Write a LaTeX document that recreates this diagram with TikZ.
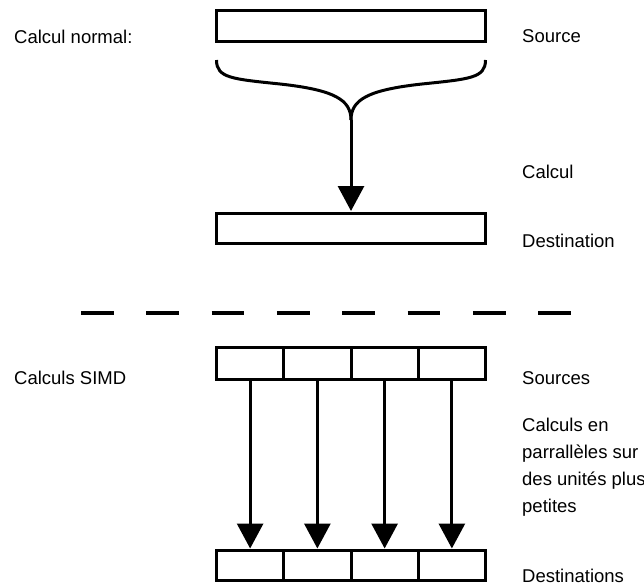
\documentclass[tikz,border=0pt]{standalone}
\usepackage{fontspec}
\setmainfont{Liberation Sans}
\usetikzlibrary{arrows.meta}
\begin{document}
\begin{tikzpicture}[x=1pt,y=-1pt,
  lbl/.style={anchor=base west,inner sep=0pt,font=\fontsize{18.5pt}{26.7pt}\selectfont,align=left},
  bigbox/.style={draw,line width=3pt,minimum width=269pt,minimum height=31pt,inner sep=0pt,outer sep=0pt},
  cell/.style={draw,line width=3pt,minimum width=67.25pt,minimum height=32pt,inner sep=0pt,outer sep=0pt},
  conn/.style={line width=3pt,-{Triangle[width=26pt,length=25pt]}},
  bracestyle/.style={line width=3pt}]
\useasboundingbox (0,0) rectangle (644,586);
% top part
\node[bigbox] (src) at (351,26) {};
\node[bigbox,minimum height=30pt] (dst) at (351,228.5) {};
\coordinate (bl) at (216.5,60);
\coordinate (br) at (485.5,60);
\coordinate (bj) at (351,120);
\draw[bracestyle] (bl) .. controls (216.5,78) and (232,79) .. (280,84)
  .. controls (335,90) and (351,100) .. (bj);
\draw[bracestyle] (br) .. controls (485.5,78) and (470,79) .. (422,84)
  .. controls (367,90) and (351,100) .. (bj);
\draw[conn,shorten >=2.5pt] (bj) -- (dst.north);
\node[lbl] (t1) at (14,44) {Calcul normal:};
\node[lbl] (t2) at (522,43) {Source};
\node[lbl] (t3) at (522,178) {Calcul};
\node[lbl] (t4) at (522,247) {Destination};
% separator
\coordinate (d1) at (81,313);
\coordinate (d2) at (571,313);
\draw[line width=4pt,dash pattern=on 32.7pt off 32.6pt] (d1) -- (d2);
% SIMD part
\foreach \i/\x in {1/250.125,2/317.375,3/384.625,4/451.875}{
  \node[cell] (s\i) at (\x,363.5) {};
  \node[cell,minimum height=30pt] (d\i) at (\x,565.5) {};
}
\foreach \i in {1,...,4}{
  \draw[conn,shorten >=2pt] (s\i.south) -- (d\i.north);
}
\node[lbl] (t5) at (14,384) {Calculs SIMD};
\node[lbl] (t6) at (522,384) {Sources};
\node[lbl] (t7) at (522,512) {Calculs en\\parrallèles sur\\des unités plus\\petites};
\node[lbl] (t8) at (522,582) {Destinations};
\end{tikzpicture}
\end{document}
